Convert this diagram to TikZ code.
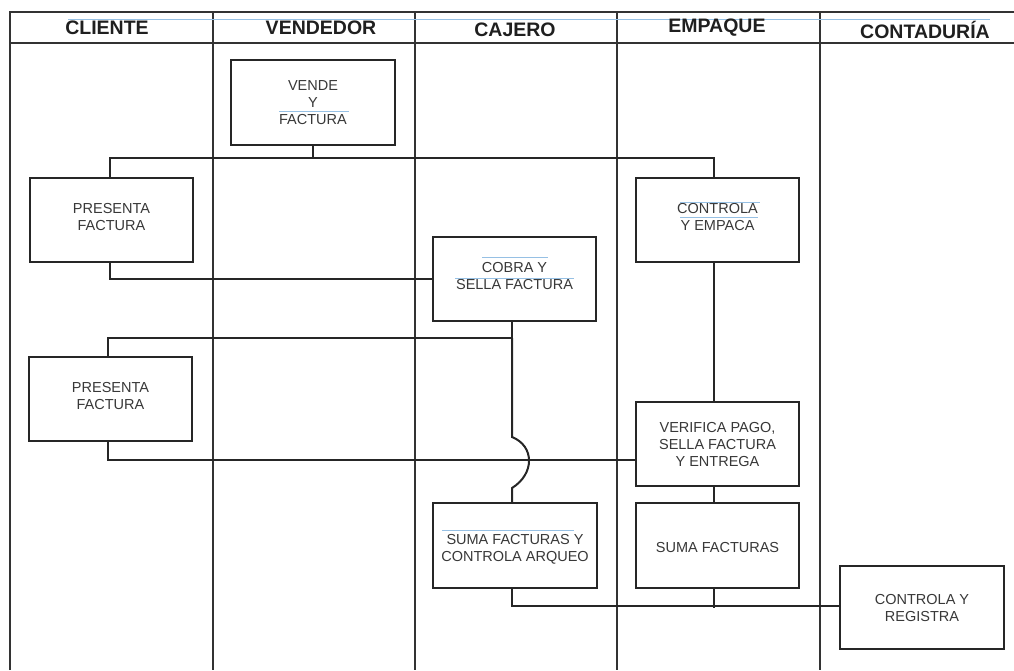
\documentclass[tikz,border=0pt]{standalone}
\usepackage{fontspec}
\setmainfont{Liberation Sans}
\definecolor{ghostblue}{RGB}{150,192,228}
\begin{document}
\begin{tikzpicture}[x=1pt,y=-1pt,
  lane/.style={draw=black!80, line width=1.4pt},
  box/.style={draw=black!85, line width=2.4pt, fill=white, minimum width=163pt, minimum height=84pt, inner sep=2pt, align=center, text=black!78, font=\fontsize{14.5}{17}\selectfont},
  head/.style={text=black!88, font=\fontsize{19.5}{20}\selectfont\bfseries, inner sep=0pt},
  conn/.style={draw=black!85, line width=2pt},
  ghost/.style={draw=ghostblue, line width=1pt}]
\useasboundingbox (0,0) rectangle (1014,670);
% lanes
\draw[lane] (10,670) -- (10,12) -- (1014,12);
\draw[lane] (10,43) -- (1014,43);
\foreach \x in {213,415,617,820} \draw[lane] (\x,12) -- (\x,670);
\draw[ghost] (68,19) -- (990,19);
% headers
\node[head] (h1) at (107,28) {CLIENTE};
\node[head] (h2) at (321,28) {VENDEDOR};
\node[head] (h3) at (515,30) {CAJERO};
\node[head] (h4) at (717,28) {EMPAQUE};
\node[head] (h5) at (925,30) {CONTADURÍA};
% boxes
\node[box, minimum width=164pt, minimum height=85pt] (vende) at (313,102.5) {VENDE\\Y\\FACTURA};
\node[box] (pres1) at (111.5,220) {PRESENTA\\FACTURA\\[-11pt]};
\node[box] (ctrl) at (717.5,220) {CONTROLA\\Y EMPACA\\[-11pt]};
\node[box] (cobra) at (514.5,279) {COBRA Y\\SELLA FACTURA\\[-10pt]};
\node[box] (pres2) at (110.5,399) {PRESENTA\\FACTURA\\[-11pt]};
\node[box] (verif) at (717.5,444) {VERIFICA PAGO,\\SELLA FACTURA\\Y ENTREGA};
\node[box, minimum width=164pt, minimum height=85pt] (suma1) at (515,545.5) {\rule{0pt}{17pt}SUMA FACTURAS Y\\CONTROLA ARQUEO};
\node[box, minimum height=85pt] (suma2) at (717.5,545.5) {\rule{0pt}{15pt}SUMA FACTURAS};
\node[box, minimum width=164pt, minimum height=83pt] (creg) at (922,607.5) {CONTROLA Y\\REGISTRA};
% ghost marks
\draw[ghost] (279,111) -- (349,111);
\draw[ghost] (680,202) -- (760,202);
\draw[ghost] (680,217) -- (758,217);
\draw[ghost] (482,257) -- (548,257);
\draw[ghost] (455,278) -- (574,278);
\draw[ghost] (442,530) -- (574,530);
% junctions
\coordinate (j1) at (313,158);
\coordinate (j2) at (512,338);
\coordinate (j3) at (714,608);
% connectors
\draw[conn] (vende.south) -- (j1);
\draw[conn] ([xshift=-1.5pt]pres1.north) |- (j1) -| ([xshift=-3.5pt]ctrl.north);
\draw[conn] ([xshift=-1.5pt]pres1.south) |- (cobra.west);
\draw[conn] ([xshift=-2.5pt]cobra.south) -- (j2) -| ([xshift=-2.5pt]pres2.north);
\draw[conn] (j2) -- (512,437) .. controls (534.7,446) and (534.7,474) .. (512,488) -- ([xshift=-3pt]suma1.north);
\draw[conn] ([xshift=-3.5pt]ctrl.south) -- ([xshift=-3.5pt]verif.north);
\draw[conn] ([xshift=-2.5pt]pres2.south) |- ([yshift=-16pt]verif.west);
\draw[conn] ([xshift=-3.5pt]verif.south) -- ([xshift=-3.5pt]suma2.north);
\draw[conn] ([xshift=-3pt]suma1.south) |- ([yshift=1.5pt]creg.west);
\draw[conn] ([xshift=-3.5pt]suma2.south) -- (j3);
\end{tikzpicture}
\end{document}
